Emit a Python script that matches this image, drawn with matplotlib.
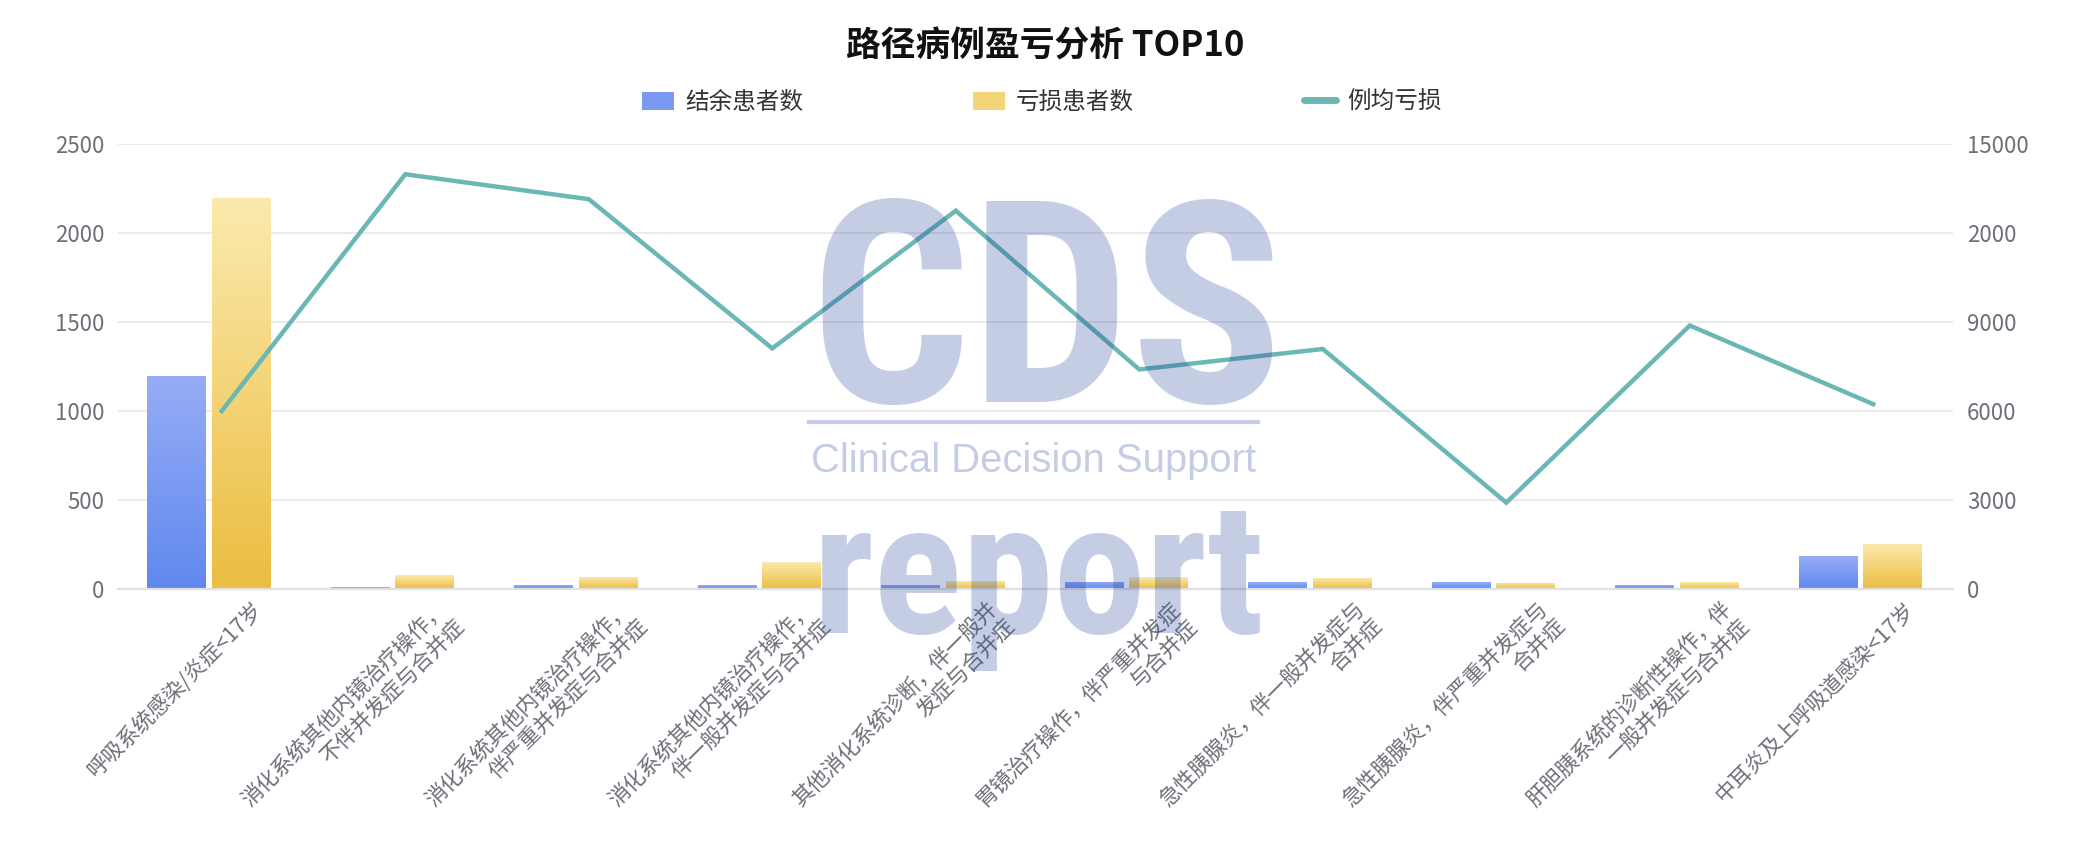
import numpy as np
import matplotlib.pyplot as plt
from matplotlib.patches import Patch
from matplotlib.lines import Line2D
from matplotlib.colors import LinearSegmentedColormap
from matplotlib.transforms import ScaledTranslation

plt.rcParams['font.family'] = ['Noto Sans CJK SC', 'DejaVu Sans']

# data
categories = [
    "呼吸系统感染/炎症<17岁",
    "消化系统其他内镜治疗操作，\n不伴并发症与合并症",
    "消化系统其他内镜治疗操作，\n伴严重并发症与合并症",
    "消化系统其他内镜治疗操作，\n伴一般并发症与合并症",
    "其他消化系统诊断，伴一般并\n发症与合并症",
    "胃镜治疗操作，伴严重并发症\n与合并症",
    "急性胰腺炎，伴一般并发症与\n合并症",
    "急性胰腺炎，伴严重并发症与\n合并症",
    "肝胆胰系统的诊断性操作，伴\n一般并发症与合并症",
    "中耳炎及上呼吸道感染<17岁",
]
surplus = [1195, 11, 20, 20, 20, 42, 37, 37, 20, 185]      # 结余患者数
loss = [2195, 78, 69, 150, 47, 66, 62, 35, 37, 253]        # 亏损患者数
avg_loss = [6000, 13980, 13140, 8110, 12750, 7400, 8090, 2910, 8880, 6230]  # 例均亏损
left_ticks = [0, 500, 1000, 1500, 2000, 2500]
right_ticks = [0, 3000, 6000, 9000, 12000, 15000]
right_labels = ["0", "3000", "6000", "9000", "2000", "15000"]

BLUE_TOP, BLUE_BOT = "#96adf5", "#6088ef"
YEL_TOP, YEL_BOT = "#fbeaae", "#ebbd40"
TEAL = "#6ab7b4"
GREY = "#6e7079"
LINE_DX = 0.065


def gradient_bars(ax, xs, heights, width, top_c, bot_c):
    cmap = LinearSegmentedColormap.from_list("g", [bot_c, top_c])
    grad = np.linspace(0, 1, 256).reshape(-1, 1)
    bars = ax.bar(xs, heights, width, color="none", edgecolor="none", zorder=2)
    for b in bars:
        x0, w, h = b.get_x(), b.get_width(), b.get_height()
        im = ax.imshow(grad, extent=[x0, x0 + w, 0, h], origin="lower",
                       cmap=cmap, aspect="auto", zorder=2, interpolation="bilinear")
        im.set_clip_path(b)
    return bars


fig = plt.figure(figsize=(20.9, 8.46), dpi=100)
ax = fig.add_axes([0.0565, 0.3038, 0.878, 0.526])
x = np.arange(len(categories))

gradient_bars(ax, x - 0.18, surplus, 0.32, BLUE_TOP, BLUE_BOT)
gradient_bars(ax, x + 0.17, loss, 0.32, YEL_TOP, YEL_BOT)

ax.set_xlim(-0.5, len(categories) - 0.5)
ax.set_ylim(0, 2500)
ax.set_yticks(left_ticks)
ax.grid(axis="y", color="#e9e9e9", lw=1.3, zorder=0)
ax.set_axisbelow(True)
for s in ["top", "right", "left"]:
    ax.spines[s].set_visible(False)
ax.spines["bottom"].set_color("#e0e0e0")
ax.spines["bottom"].set_linewidth(1.6)
ax.tick_params(axis="y", length=0, pad=10, labelsize=16, labelcolor=GREY)
ax.tick_params(axis="x", length=0, pad=6)

ax.set_xticks(x)
ax.set_xticklabels(categories, rotation=45, ha="right", va="top",
                   rotation_mode="anchor", fontsize=15.5, color=GREY,
                   multialignment="right")
off = ScaledTranslation(0.42, 0.0, fig.dpi_scale_trans)
for lab in ax.get_xticklabels():
    lab.set_transform(lab.get_transform() + off)

ax2 = ax.twinx()
ax2.plot(x + LINE_DX, avg_loss, color=TEAL, lw=3.2, solid_joinstyle="miter", zorder=3)
ax2.set_ylim(0, 15000)
ax2.set_yticks(right_ticks)
ax2.set_yticklabels(right_labels)
for s in ax2.spines.values():
    s.set_visible(False)
ax2.tick_params(axis="y", length=0, pad=10, labelsize=16, labelcolor=GREY)

fig.text(0.5, 0.945, "路径病例盈亏分析 TOP10", ha="center", va="center",
         fontsize=25, fontweight="bold", color="#111111")

handles = [
    Patch(facecolor="#7b99f2", edgecolor="none"),
    Patch(facecolor="#f3d577", edgecolor="none"),
    Line2D([0], [0], color=TEAL, lw=5, solid_capstyle="round"),
]
fig.legend(handles, ["结余患者数", "亏损患者数", "例均亏损"], loc="center",
           bbox_to_anchor=(0.4985, 0.879), ncol=3, frameon=False, fontsize=17,
           handlelength=1.36, handleheight=0.8, handletextpad=0.47,
           columnspacing=7.2, labelcolor="#333333")

# watermark logo, fitted to the reference's width
WM = "#2a48a0"
heavy = ["Liberation Sans Narrow", "Roboto Condensed", "Roboto", "DejaVu Sans"]
renderer = fig.canvas.get_renderer()


def fit_width(t, target_px):
    w = t.get_window_extent(renderer).width
    t.set_fontsize(t.get_fontsize() * target_px / w)


cds = fig.text(0.5005, 1 - 402 / 846, "CDS", ha="center", va="baseline",
               fontsize=150, fontweight="black", family=heavy,
               color=WM, alpha=0.27, zorder=10)
fit_width(cds, 474)
fig.add_artist(Line2D([809 / 2090, 1258 / 2090], [1 - 422 / 846, 1 - 422 / 846],
                      color=WM, alpha=0.27, lw=3, zorder=10))
fig.text(810.7 / 2090, 1 - 472 / 846, "Clinical Decision Support", ha="left",
         va="baseline", fontsize=28.8, family=["Liberation Sans", "DejaVu Sans"],
         color=WM, alpha=0.27, zorder=10)
rep = fig.text(0.497, 1 - 633 / 846, "report", ha="center", va="baseline",
               fontsize=120, fontweight="black", family=heavy,
               color=WM, alpha=0.27, zorder=10)
fit_width(rep, 452)

fig.savefig("out.png", dpi=100)
